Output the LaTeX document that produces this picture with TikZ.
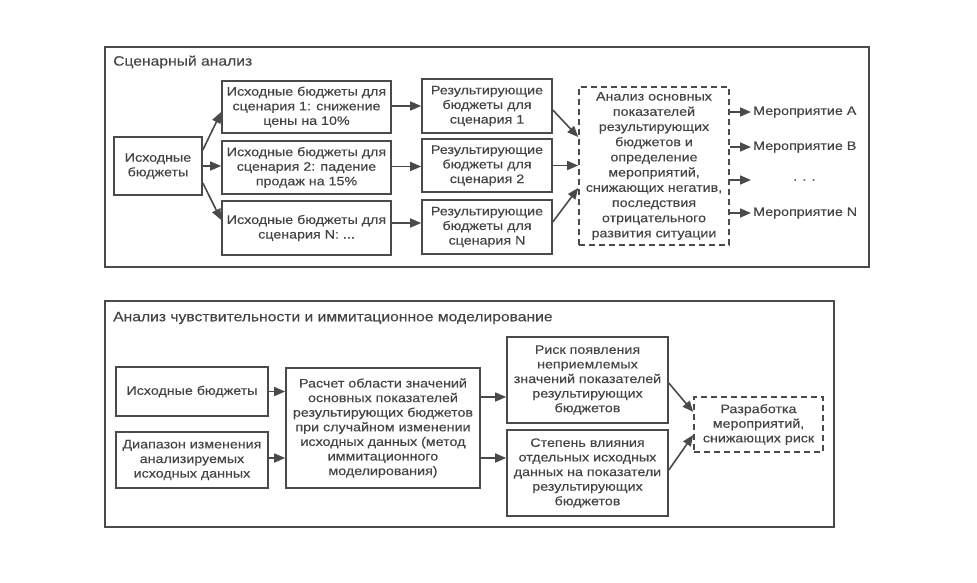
\documentclass[tikz,border=0pt]{standalone}
\usepackage{fontspec}
\setmainfont[FakeStretch=1.16,FakeBold=0.2]{Liberation Sans}
\usetikzlibrary{arrows.meta}
\definecolor{ink}{HTML}{444444}
\definecolor{lin}{HTML}{4A4A4A}
\begin{document}
\begin{tikzpicture}[x=1pt,y=-1pt,
  every node/.style={text=ink},
  box/.style={draw=lin, line width=1.6pt, fill=white, align=center, inner sep=0pt,
     font=\fontsize{12.3}{14.6}\selectfont},
  dbox/.style={box, dash pattern=on 6pt off 4pt},
  panel/.style={draw=lin, line width=1.4pt, inner sep=0pt},
  ttl/.style={anchor=west, inner sep=0pt, font=\fontsize{13.5}{15}\selectfont},
  lbl/.style={anchor=west, inner sep=2pt, font=\fontsize{12.3}{14.5}\selectfont},
  arr/.style={draw=lin, line width=1.6pt, -{Triangle[length=11pt,width=9pt]}}]
\useasboundingbox (0,0) rectangle (977,582);
\fill[white] (0,0) rectangle (977,582);

% ---------------- top panel ----------------
\node[panel, minimum width=764pt, minimum height=220pt] (p1) at (487,157) {};
\node[ttl] (t1) at (113,62) {Сценарный анализ};

\node[box, minimum width=88pt, minimum height=58pt] (src) at (158,166) {Исходные\\бюджеты};
\node[box, minimum width=169pt, minimum height=52pt] (s1) at (306.5,107) {Исходные бюджеты для\\сценария 1: снижение\\цены на 10\%};
\node[box, minimum width=169pt, minimum height=53pt] (s2) at (306.5,167.5) {Исходные бюджеты для\\сценария 2: падение\\продаж на 15\%};
\node[box, minimum width=169pt, minimum height=54pt] (s3) at (306.5,228) {Исходные бюджеты для\\сценария N: ...};
\node[box, minimum width=130pt, minimum height=54pt] (r1) at (487,106) {Результирующие\\бюджеты для\\сценария 1};
\node[box, minimum width=130pt, minimum height=53pt] (r2) at (487,165.5) {Результирующие\\бюджеты для\\сценария 2};
\node[box, minimum width=130pt, minimum height=54pt] (r3) at (487,227) {Результирующие\\бюджеты для\\сценария N};
\node[dbox, minimum width=150pt, minimum height=158pt, font=\fontsize{12.3}{15.2}\selectfont] (ana) at (654,166)
  {Анализ основных\\показателей\\результирующих\\бюджетов и\\определение\\мероприятий,\\снижающих негатив,\\последствия\\отрицательного\\развития ситуации};

\node[lbl] (mA) at (751,112) {Мероприятие A};
\node[lbl] (mB) at (751,147) {Мероприятие B};
\node[lbl] (mD) at (791,180) {. . .};
\node[lbl] (mN) at (751,213) {Мероприятие N};

\draw[arr] ([yshift=16pt]src.east) -- ([yshift=-5pt]s1.west);
\draw[arr] (src.east) -- (src.east -| s2.west);
\draw[arr] ([yshift=-17pt]src.east) -- ([yshift=8pt]s3.west);
\draw[arr] ([yshift=1pt]s1.east) -- ([yshift=1pt]s1.east -| r1.west);
\draw[arr] ([yshift=1pt]s2.east) -- ([yshift=1pt]s2.east -| r2.west);
\draw[arr] ([yshift=5pt]s3.east) -- ([yshift=5pt]s3.east -| r3.west);
\draw[arr] ([yshift=-4pt]r1.east) -- ([yshift=29pt]ana.west);
\draw[arr] (r2.east) -- (r2.east -| ana.west);
\draw[arr] ([yshift=5pt]r3.east) -- ([yshift=-22pt]ana.west);
\draw[arr] (ana.east |- mA.west) -- (mA.west);
\draw[arr] (ana.east |- mB.west) -- (mB.west);
\draw[arr] (ana.east |- mD.west) -- ([xshift=-40pt]mD.west);
\draw[arr] (ana.east |- mN.west) -- (mN.west);

% ---------------- bottom panel ----------------
\node[panel, minimum width=729pt, minimum height=226pt] (p2) at (469.5,414) {};
\node[ttl] (t2) at (113,318) {Анализ чувствительности и иммитационное моделирование};

\node[box, minimum width=152pt, minimum height=49pt] (bsrc) at (192,391.5) {Исходные бюджеты};
\node[box, minimum width=152pt, minimum height=56pt] (rng) at (192,460) {Диапазон изменения\\анализируемых\\исходных данных};
\node[box, minimum width=194pt, minimum height=120pt] (calc) at (383,428) {Расчет области значений\\основных показателей\\результирующих бюджетов\\при случайном изменении\\исходных данных (метод\\иммитационного\\моделирования)};
\node[box, minimum width=161pt, minimum height=86pt] (risk) at (587.5,380) {Риск появления\\неприемлемых\\значений показателей\\результирующих\\бюджетов};
\node[box, minimum width=161pt, minimum height=86pt] (infl) at (587.5,473) {Степень влияния\\отдельных исходных\\данных на показатели\\результирующих\\бюджетов};
\node[dbox, minimum width=129pt, minimum height=55pt] (dev) at (758.5,424.5) {Разработка\\мероприятий,\\снижающих риск};

\draw[arr] (bsrc.east) -- (bsrc.east -| calc.west);
\draw[arr] ([yshift=2pt]rng.east) -- ([yshift=2pt]rng.east -| calc.west);
\draw[arr] ([yshift=31pt]calc.east) -- ([yshift=31pt]calc.east -| risk.west);
\draw[arr] ([yshift=-30pt]calc.east) -- ([yshift=-30pt]calc.east -| infl.west);
\draw[arr] ([yshift=-3pt]risk.east) -- ([yshift=12.5pt]dev.west);
\draw[arr] ([yshift=3pt]infl.east) -- ([yshift=-10.5pt]dev.west);
\end{tikzpicture}
\end{document}
